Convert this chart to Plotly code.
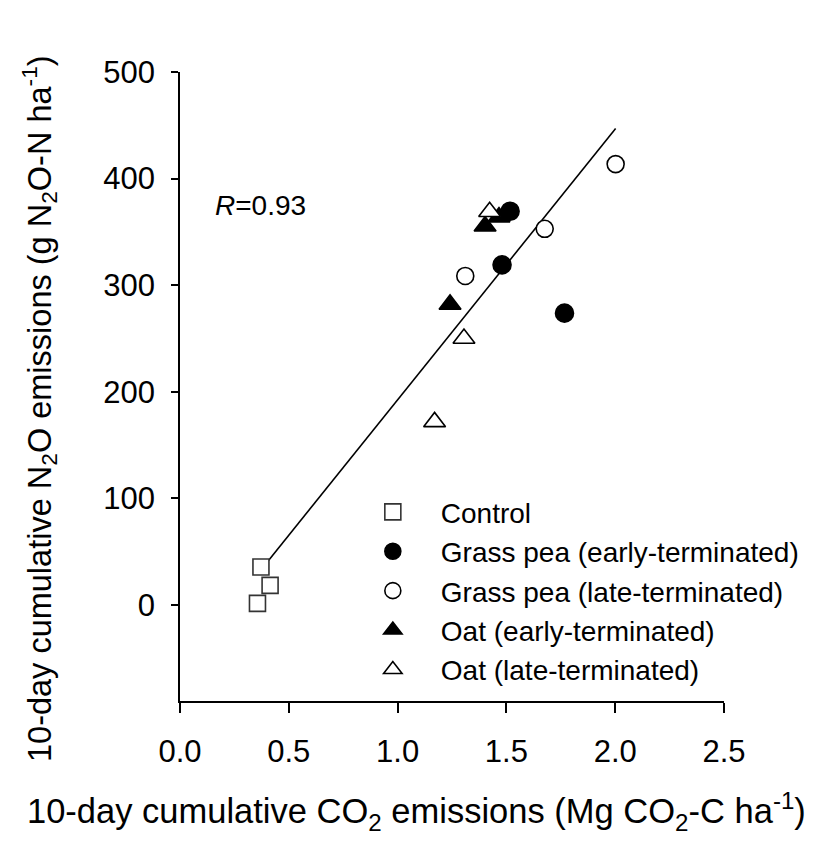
import plotly.graph_objects as go

# ---- data ----
control_x = [0.372, 0.414, 0.356]
control_y = [35.7, 18.5, 1.6]

gp_early_x = [1.517, 1.480, 1.767]
gp_early_y = [369.4, 319.1, 273.8]

gp_late_x = [1.676, 1.311, 2.002]
gp_late_y = [352.9, 308.7, 413.6]

oat_early_x = [1.241, 1.402, 1.466]
oat_early_y = [282.0, 355.4, 363.9]

oat_late_x = [1.423, 1.305, 1.170]
oat_late_y = [368.9, 250.0, 171.8]

fit_slope = 254.0
fit_intercept = -61.5
r_value = 0.93

x_ticks = [0.0, 0.5, 1.0, 1.5, 2.0, 2.5]
y_ticks = [0, 100, 200, 300, 400, 500]

FONT = "Liberation Sans, Arial, sans-serif"

all_x = control_x + gp_early_x + gp_late_x + oat_early_x + oat_late_x
fx = [min(all_x), max(all_x)]
fy = [fit_intercept + fit_slope * v for v in fx]

fig = go.Figure()

fig.add_trace(go.Scatter(x=fx, y=fy, mode="lines", line=dict(color="black", width=1.6),
                         showlegend=False, hoverinfo="skip"))

def add(name, xs, ys, symbol, size, fill, edge, rank):
    fig.add_trace(go.Scatter(
        x=xs, y=ys, mode="markers", name=name, legendrank=rank, legendgroup=name,
        marker=dict(symbol=symbol, size=size, color=fill,
                    line=dict(color=edge, width=1.6)),
    ))

add("Oat (early-terminated)", oat_early_x, oat_early_y, "triangle-up", 19, "black", "black", 4)
add("Oat (late-terminated)", oat_late_x, oat_late_y, "triangle-up", 19, "white", "black", 5)
add("Grass pea (early-terminated)", gp_early_x, gp_early_y, "circle", 18, "black", "black", 2)
add("Grass pea (late-terminated)", gp_late_x, gp_late_y, "circle", 17, "white", "black", 3)
add("Control", control_x, control_y, "square", 16, "white", "#333333", 1)

fig.update_layout(
    width=813, height=850,
    margin=dict(l=180, r=89, t=72, b=149, autoexpand=False),
    plot_bgcolor="white", paper_bgcolor="white",
    font=dict(family=FONT, size=26, color="black"),
    showlegend=True,
    legend=dict(x=0.303, y=0.34, xanchor="left", yanchor="top",
                font=dict(family=FONT, size=28, color="black"),
                bgcolor="rgba(0,0,0,0)", itemwidth=86, tracegroupgap=0,
                itemclick=False),
    xaxis=dict(range=[0, 2.5], tickvals=x_ticks, ticktext=[f"{v:.1f}" for v in x_ticks],
               showgrid=False, zeroline=False, showline=True, linecolor="black", linewidth=1.5,
               ticks="outside", ticklen=10, tickwidth=1.5, tickcolor="black",
               tickfont=dict(family=FONT, size=31), ticklabelstandoff=12),
    yaxis=dict(range=[-90, 500], tickvals=y_ticks, ticktext=[str(v) for v in y_ticks],
               showgrid=False, zeroline=False, showline=True, linecolor="black", linewidth=1.5,
               ticks="outside", ticklen=7, tickwidth=1.5, tickcolor="black",
               tickfont=dict(family=FONT, size=31), ticklabelstandoff=10),
    annotations=[
        dict(x=0.152, y=375, xref="x", yref="y", xanchor="left", yanchor="middle",
             text=f"<i>R</i>={r_value:.2f}", showarrow=False, font=dict(family=FONT, size=28)),
        dict(x=416, y=838, xref="paper", yref="paper", text=(
            "10-day cumulative CO<sub>2</sub> emissions (Mg CO<sub>2</sub>-C ha<sup>-1</sup>)"),
             showarrow=False, font=dict(family=FONT, size=34.5)),
        dict(x=14, y=409, xref="paper", yref="paper", textangle=-90, text=(
            "10-day cumulative N<sub>2</sub>O emissions (g N<sub>2</sub>O-N ha<sup>-1</sup>)"),
             showarrow=False, font=dict(family=FONT, size=32.5)),
    ],
)

# convert pixel-positioned title annotations to paper coords
pw = 813 - 180 - 89
ph = 850 - 72 - 149
for a in fig.layout.annotations[1:]:
    a.x = (a.x - 180) / pw
    a.y = (850 - 149 - a.y) / ph

fig.write_html("out.html")
